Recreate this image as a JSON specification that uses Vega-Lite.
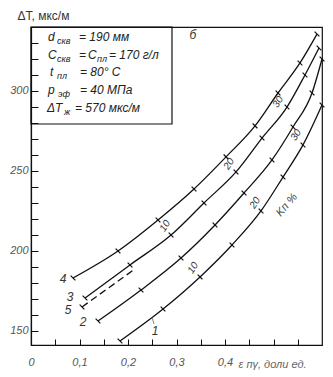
{
  "$schema": "https://vega.github.io/schema/vega-lite/v6.json",
  "width": 291,
  "height": 318,
  "autosize": {"type": "none"},
  "padding": {"left": 31, "top": 27, "right": 11, "bottom": 32},
  "background": "white",
  "config": {"view": {"stroke": "#111", "strokeWidth": 1.2}, "font": "Liberation Sans"},
  "datasets": {
    "curves": [
      {"curve": "4", "x": 0.0866, "y": 182.9}, {"curve": "4", "x": 0.1794, "y": 199.8}, {"curve": "4", "x": 0.2619, "y": 219.2},
      {"curve": "4", "x": 0.3361, "y": 238.6}, {"curve": "4", "x": 0.4021, "y": 258.7}, {"curve": "4", "x": 0.4619, "y": 278.1},
      {"curve": "4", "x": 0.5093, "y": 298.7}, {"curve": "4", "x": 0.5546, "y": 317.5}, {"curve": "4", "x": 0.5897, "y": 335.6},
      {"curve": "3", "x": 0.1113, "y": 170.4}, {"curve": "3", "x": 0.2041, "y": 191.1}, {"curve": "3", "x": 0.2887, "y": 209.8},
      {"curve": "3", "x": 0.3567, "y": 229.9}, {"curve": "3", "x": 0.4227, "y": 249.3}, {"curve": "3", "x": 0.4763, "y": 270.5},
      {"curve": "3", "x": 0.5278, "y": 289.9}, {"curve": "3", "x": 0.5649, "y": 310.0}, {"curve": "3", "x": 0.5938, "y": 326.9},
      {"curve": "2", "x": 0.1381, "y": 156.0}, {"curve": "2", "x": 0.2268, "y": 175.4}, {"curve": "2", "x": 0.3093, "y": 195.4},
      {"curve": "2", "x": 0.3794, "y": 216.1}, {"curve": "2", "x": 0.4392, "y": 236.1}, {"curve": "2", "x": 0.4969, "y": 256.8},
      {"curve": "2", "x": 0.5402, "y": 277.4}, {"curve": "2", "x": 0.5794, "y": 298.7}, {"curve": "2", "x": 0.6, "y": 320.0},
      {"curve": "1", "x": 0.1835, "y": 143.5}, {"curve": "1", "x": 0.2722, "y": 163.5}, {"curve": "1", "x": 0.3485, "y": 183.6},
      {"curve": "1", "x": 0.4144, "y": 203.6}, {"curve": "1", "x": 0.4742, "y": 224.9}, {"curve": "1", "x": 0.5196, "y": 246.1},
      {"curve": "1", "x": 0.5608, "y": 266.2}, {"curve": "1", "x": 0.6, "y": 291.2},
      {"curve": "5", "x": 0.1052, "y": 164.8}, {"curve": "5", "x": 0.2144, "y": 188.6}
    ],
    "kp": [
      {"x": 0.2763, "y": 215.5, "t": "10"}, {"x": 0.4082, "y": 254.3, "t": "20"}, {"x": 0.5093, "y": 293.1, "t": "30"},
      {"x": 0.334, "y": 189.2, "t": "10"}, {"x": 0.4619, "y": 229.9, "t": "20"}, {"x": 0.5464, "y": 272.4, "t": "30"}
    ],
    "kpt": [
      {"x": 0.5278, "y": 228.6, "t": "Kп %"}
    ],
    "nums": [
      {"x": 0.066, "y": 182.3, "t": "4"}, {"x": 0.0804, "y": 171.0, "t": "3"}, {"x": 0.0763, "y": 162.9, "t": "5"},
      {"x": 0.1072, "y": 155.4, "t": "2"}, {"x": 0.2557, "y": 149.8, "t": "1"}, {"x": 0.334, "y": 335.0, "t": "б"}
    ],
    "leader": [{"x": 0.2495, "y": 158.5, "xe": 0.2536, "ye": 154.1}],
    "box": [{"x": 0, "y": 279.3, "xe": 0.2907, "ye": 340}],
    "main": [
      {"x": 0.0351, "y": 331.2, "t": "d"}, {"x": 0.099, "y": 331.2, "t": "= 190 мм"},
      {"x": 0.0351, "y": 319.9, "t": "C"}, {"x": 0.099, "y": 319.9, "t": "="}, {"x": 0.1175, "y": 319.9, "t": "C"}, {"x": 0.1608, "y": 319.9, "t": "= 170 г/л"},
      {"x": 0.0392, "y": 309.3, "t": "t"}, {"x": 0.101, "y": 309.3, "t": "= 80° C"},
      {"x": 0.0351, "y": 298.0, "t": "p"}, {"x": 0.101, "y": 298.0, "t": "= 40  МПа"},
      {"x": 0.033, "y": 286.8, "t": "ΔT"}, {"x": 0.0907, "y": 286.8, "t": "= 570 мкс/м"}
    ],
    "sub": [
      {"x": 0.0536, "y": 329.3, "t": "скв"},
      {"x": 0.0536, "y": 318.0, "t": "скв"}, {"x": 0.1361, "y": 318.0, "t": "пл"},
      {"x": 0.0536, "y": 307.4, "t": "пл"},
      {"x": 0.0557, "y": 296.1, "t": "эф"},
      {"x": 0.068, "y": 284.9, "t": "ж"}
    ]
  },
  "encoding": {
    "x": {
      "field": "x", "type": "quantitative",
      "scale": {"domain": [0, 0.6], "nice": false, "zero": false},
      "axis": {
        "title": "ε пγ, доли ед.",
        "values": [0, 0.05, 0.1, 0.15, 0.2, 0.25, 0.3, 0.35, 0.4, 0.45, 0.5, 0.55],
        "labelExpr": "datum.value == 0 ? '0' : ((datum.value < 0.45 && abs(datum.value * 10 - round(datum.value * 10)) < 0.001) ? replace(format(datum.value, '.1f'), '.', ',') : '')",
        "grid": false, "tickSize": -6, "tickColor": "#111", "tickWidth": 1,
        "domainColor": "#111", "domainWidth": 1.2,
        "labelFont": "Liberation Sans", "labelFontStyle": "italic", "labelFontSize": 11, "labelColor": "#555",
        "labelPadding": 17, "labelFlush": false, "labelOverlap": false,
        "titleFont": "Liberation Sans", "titleFontStyle": "italic", "titleFontWeight": "normal", "titleFontSize": 11, "titleColor": "#666",
        "titleAlign": "left", "titleAnchor": "start", "titleX": 207, "titleY": 22, "titleBaseline": "alphabetic"
      }
    },
    "y": {
      "field": "y", "type": "quantitative",
      "scale": {"domain": [141, 340], "nice": false, "zero": false},
      "axis": {
        "title": "ΔT, мкс/м",
        "values": [150, 160, 170, 180, 190, 200, 210, 220, 230, 240, 250, 260, 270, 280, 290, 300, 310, 320, 330],
        "labelExpr": "datum.value % 50 == 0 ? datum.label : ''",
        "grid": false, "tickSize": -7, "tickColor": "#111", "tickWidth": 1,
        "domainColor": "#111", "domainWidth": 1.2,
        "labelFont": "Liberation Sans", "labelFontStyle": "italic", "labelFontSize": 11, "labelColor": "#555",
        "labelPadding": 10, "labelOverlap": false, "labelFlush": false,
        "titleFont": "Liberation Sans", "titleFontWeight": "normal", "titleFontSize": 12, "titleColor": "#333",
        "titleAngle": 0, "titleAlign": "left", "titleAnchor": "start", "titleX": -14, "titleY": -8, "titleBaseline": "alphabetic"
      }
    }
  },
  "layer": [
    {
      "data": {"name": "box"},
      "mark": {"type": "rect", "filled": false, "color": "#111", "strokeWidth": 1.2},
      "encoding": {"x2": {"field": "xe"}, "y2": {"field": "ye"}}
    },
    {
      "data": {"name": "curves"},
      "transform": [{"filter": "datum.curve != '5'"}],
      "mark": {"type": "line", "interpolate": "monotone", "color": "#111", "strokeWidth": 1.3},
      "encoding": {"detail": {"field": "curve"}}
    },
    {
      "data": {"name": "curves"},
      "transform": [{"filter": "datum.curve == '5'"}],
      "mark": {"type": "line", "color": "#111", "strokeWidth": 1.3, "strokeDash": [7, 4]},
      "encoding": {"detail": {"field": "curve"}}
    },
    {
      "data": {"name": "curves"},
      "transform": [{"filter": "datum.curve != '5' || datum.x < 0.15"}],
      "mark": {"type": "point", "shape": "stroke", "angle": 45, "size": 45, "filled": false, "color": "#111", "strokeWidth": 1.2, "opacity": 1}
    },
    {
      "data": {"name": "leader"},
      "mark": {"type": "rule", "color": "#666", "strokeWidth": 0.8},
      "encoding": {"x2": {"field": "xe"}, "y2": {"field": "ye"}}
    },
    {
      "data": {"name": "kp"},
      "mark": {"type": "text", "angle": -57, "fontSize": 10, "fontStyle": "italic", "color": "#333", "align": "center", "baseline": "middle", "font": "Liberation Sans"},
      "encoding": {"text": {"field": "t"}}
    },
    {
      "data": {"name": "kpt"},
      "mark": {"type": "text", "angle": -50, "fontSize": 11, "fontStyle": "italic", "color": "#444", "align": "center", "baseline": "middle", "font": "Liberation Sans"},
      "encoding": {"text": {"field": "t"}}
    },
    {
      "data": {"name": "nums"},
      "mark": {"type": "text", "fontSize": 12, "fontStyle": "italic", "color": "#333", "align": "center", "baseline": "middle", "font": "Liberation Sans"},
      "encoding": {"text": {"field": "t"}}
    },
    {
      "data": {"name": "main"},
      "mark": {"type": "text", "fontSize": 12, "fontStyle": "italic", "color": "#222", "align": "left", "baseline": "alphabetic", "font": "Liberation Sans"},
      "encoding": {"text": {"field": "t"}}
    },
    {
      "data": {"name": "sub"},
      "mark": {"type": "text", "fontSize": 9, "fontStyle": "italic", "color": "#222", "align": "left", "baseline": "alphabetic", "font": "Liberation Sans"},
      "encoding": {"text": {"field": "t"}}
    }
  ]
}
